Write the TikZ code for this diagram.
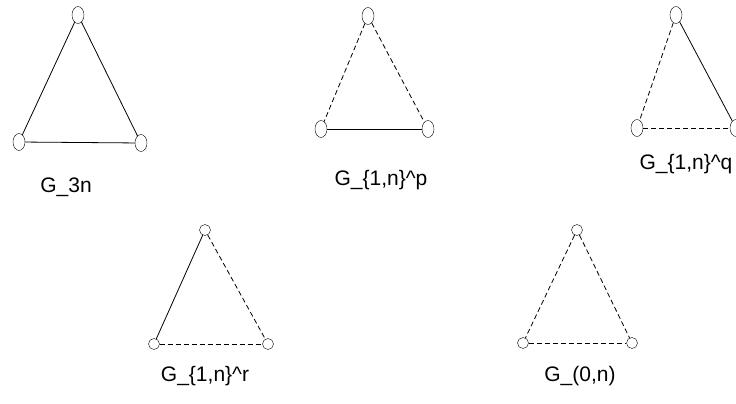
\documentclass[tikz,border=0pt]{standalone}
\usepackage{fontspec}
\setmainfont{Liberation Sans}
\usetikzlibrary{shapes.geometric}
\begin{document}
\begin{tikzpicture}[x=1pt,y=-1pt,
    vtx/.style={draw,ellipse,minimum width=12pt,minimum height=17pt,inner sep=0pt},
    rvtx/.style={draw,circle,minimum size=11pt,inner sep=0pt},
    lbl/.style={font=\fontsize{21}{25}\selectfont},
    sedge/.style={line width=0.8pt},
    dedge/.style={line width=0.8pt,dash pattern=on 5pt off 3pt}]
    \useasboundingbox(0,0)rectangle(736,404);
    \node[vtx](at)at(78,15){};
    \node[vtx](al)at(19,142){};
    \node[vtx](ar)at(141,143){};
    \draw[sedge](at)--(al);
    \draw[sedge](at)--(ar);
    \draw[sedge](al)--(ar);
    \node[lbl](la)at(66,187){G\_3n};
    \node[vtx](bt)at(368,16){};
    \node[vtx](bl)at(321,129){};
    \node[vtx](br)at(428,129){};
    \draw[dedge](bt)--(bl);
    \draw[dedge](bt)--(br);
    \draw[sedge](bl)--(br);
    \node[lbl](lb)at(381,180){G\_\{1,n\}\^{}p};
    \node[vtx](ct)at(676,15){};
    \node[vtx](cl)at(637,128){};
    \node[vtx](cr)at(736,128){};
    \draw[dedge](ct)--(cl);
    \draw[sedge](ct)--(cr);
    \draw[dedge](cl)--(cr);
    \node[lbl](lc)at(686,164){G\_\{1,n\}\^{}q};
    \node[rvtx](dt)at(205,230){};
    \node[rvtx](dl)at(154,344){};
    \node[rvtx](dr)at(268,344){};
    \draw[sedge](dt)--(dl);
    \draw[dedge](dt)--(dr);
    \draw[dedge](dl)--(dr);
    \node[lbl](ld)at(205,376){G\_\{1,n\}\^{}r};
    \node[rvtx](et)at(577,230){};
    \node[rvtx](el)at(523,343){};
    \node[rvtx](er)at(632,343){};
    \draw[dedge](et)--(el);
    \draw[dedge](et)--(er);
    \draw[dedge](el)--(er);
    \node[lbl](le)at(580,376){G\_(0,n)};
\end{tikzpicture}
\end{document}
